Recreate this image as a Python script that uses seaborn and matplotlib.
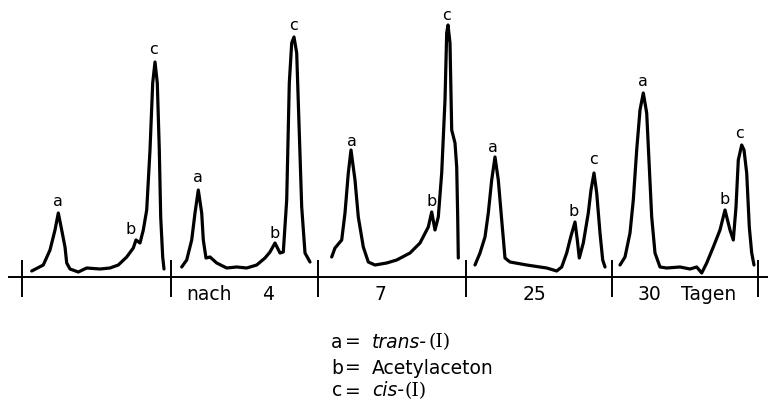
import matplotlib
matplotlib.use("Agg")
import matplotlib.pyplot as plt
import seaborn as sns
import pandas as pd

# retention position (x) and detector signal above baseline (y) per chromatogram
p1_x = [31.7, 43.3, 50, 55, 58.3, 61.7, 65, 66.7, 70, 78.3, 86.7, 100, 110, 118.3, 126.7, 133.3,
        136, 140, 143.3, 146.7, 150, 152.7, 155, 157.3, 159.3, 160.7, 162.7, 164]
p1_y = [6, 12, 27, 47, 64, 47, 30, 14, 8, 5, 9, 8, 9, 12, 20, 29,
        37, 34, 47, 67, 127, 194, 215, 194, 127, 60, 20, 8]

p2_x = [181.7, 186.7, 191.7, 195, 198.3, 201.7, 203.3, 206, 210, 216.7, 226.7, 236.7, 246.7, 256.7,
        265, 270, 275, 280, 283.3, 286.7, 289.3, 291.7, 294, 296.7, 299.3, 301.7, 305, 310]
p2_y = [10, 17, 37, 64, 87, 64, 37, 19, 20, 14, 9, 10, 9, 12,
        19, 25, 34, 24, 25, 77, 194, 234, 240, 224, 144, 70, 24, 15]

p3_x = [331.7, 335, 341.7, 345, 348.3, 351, 355, 358.3, 363.3, 368.3, 375, 386.7, 396.7, 410, 420,
        428.3, 431.7, 435, 438.3, 441.7, 445, 446.7, 448, 450, 451.7, 455, 456.7, 457.7, 458.3]
p3_y = [20, 29, 37, 64, 104, 127, 97, 60, 30, 15, 12, 14, 17, 24, 34,
        50, 65, 47, 60, 104, 177, 244, 252, 234, 147, 134, 110, 60, 19]

p4_x = [475, 480, 485, 488.3, 491.7, 495, 498.3, 501.7, 505, 510, 526.7, 546.7, 556.7, 561.7,
        566.7, 570.7, 575, 577.3, 579.3, 583.3, 588.3, 591, 594, 596.7, 600, 602.7, 605]
p4_y = [12, 24, 40, 64, 97, 120, 97, 57, 19, 15, 12, 9, 6, 10,
        24, 40, 55, 37, 19, 34, 64, 87, 104, 84, 44, 17, 10]

p5_x = [620, 625, 630, 633.3, 636.7, 640, 643.3, 646.7, 649.3, 651.7, 655, 660, 666.7, 680, 690,
        696.7, 701.7, 706.7, 713.3, 720, 725, 730, 733.3, 736, 738.3, 741.7, 744, 746.7, 749.3,
        751.7, 754]
p5_y = [12, 20, 44, 77, 127, 167, 184, 164, 110, 60, 24, 10, 9, 10, 8,
        10, 4, 14, 30, 47, 67, 47, 37, 70, 117, 132, 127, 104, 50,
        24, 12]

# peak labels: letter, position, signal
peak_letters = ["a", "b", "c"] * 5
peak_x = [58.3, 131, 154, 198.3, 275, 293.3, 351.7, 431.7, 446.7,
          493.3, 573.3, 593.3, 643.3, 725, 740]
peak_y = [75, 47, 228, 99, 44, 252, 135, 75, 262, 130, 65, 117, 195, 77, 144]

# chromatogram separators on time axis
sep_x = [21.7, 170.7, 318, 465.5, 611.7, 758.3]

# time labels beneath the axis
time_labels = ["nach", "4", "7", "25", "30", "Tagen"]
time_x = [209, 268, 380, 535, 649, 709]

legend_keys = ["a", "b", "c"]
legend_prefix = ["trans-", "Acetylaceton", "cis-"]
legend_prefix_italic = [True, False, True]
legend_suffix = ["(I)", "", "(I)"]

frames = []
for i, (xs, ys) in enumerate([(p1_x, p1_y), (p2_x, p2_y), (p3_x, p3_y), (p4_x, p4_y), (p5_x, p5_y)]):
    frames.append(pd.DataFrame({"t": xs, "signal": ys, "run": i}))
df = pd.concat(frames, ignore_index=True)

sns.set_theme(style="white")
plt.rcParams["font.family"] = ["DejaVu Sans"]

fig = plt.figure(figsize=(7.69, 4.0), dpi=100)
ax = fig.add_axes([0, 0, 1, 1])
sns.lineplot(data=df, x="t", y="signal", hue="run", units="run", estimator=None, sort=False,
             palette=["black"] * 5, legend=False, linewidth=2.3, ax=ax)

ax.set_xlim(0, 769)
ax.set_ylim(-123, 277)
ax.axis("off")

# time axis
ax.hlines(0, 8, 768, color="black", linewidth=1.4)
ax.vlines(sep_x, -20, 17, color="black", linewidth=1.4)

for s, x, y in zip(peak_letters, peak_x, peak_y):
    ax.text(x, y, s, ha="center", va="center", fontsize=11.5, color="black")

for s, x in zip(time_labels, time_x):
    ax.text(x, -17, s, ha="center", va="center", fontsize=13.5, color="black")

fig.canvas.draw()
renderer = fig.canvas.get_renderer()
leg_y = [-65, -91, -114]
fs = 13.5
for k, pre, it, suf, y in zip(legend_keys, legend_prefix, legend_prefix_italic, legend_suffix, leg_y):
    ax.text(337, y, k, ha="center", va="center", fontsize=fs, color="black")
    ax.text(353, y, "=", ha="center", va="center", fontsize=fs, color="black")
    t = ax.text(372, y, pre, ha="left", va="center", fontsize=fs, color="black",
                style="italic" if it else "normal")
    if suf:
        bb = t.get_window_extent(renderer=renderer)
        x_end = ax.transData.inverted().transform((bb.x1, bb.y0))[0]
        ax.text(x_end + 1, y, suf, ha="left", va="center", fontsize=fs, color="black",
                family=["DejaVu Serif"])

fig.savefig("out.png", dpi=100)
